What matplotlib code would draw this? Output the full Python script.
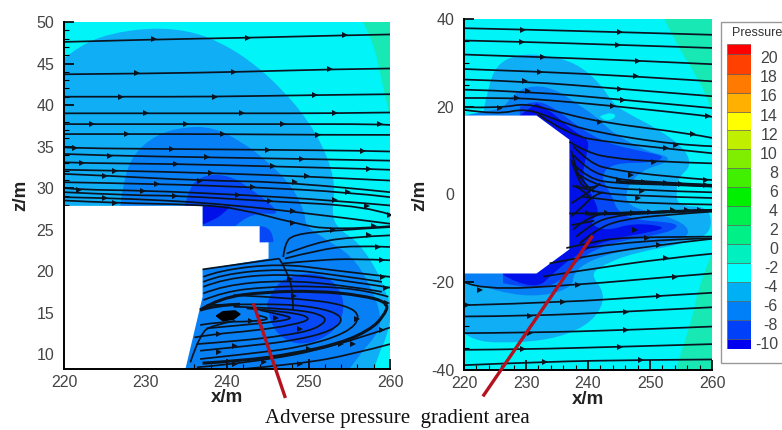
import matplotlib
matplotlib.use("Agg")
import matplotlib.pyplot as plt
from matplotlib.path import Path
from matplotlib.patches import PathPatch, Rectangle
from matplotlib.ticker import MultipleLocator

W, H = 782, 430

# colour bar
cb_edges = [-10.6, -9.6, -7.6, -5.6, -3.6, -1.6, 0.4, 2.4, 4.4, 6.4, 8.4, 10.4, 12.4, 14.3, 16.3, 18.2, 20.3, 21.4]
cb_colors = ["#0000f0", "#0040f8", "#0080f8", "#00b0f5", "#00ffff", "#00f0c0", "#00f088", "#00f050",
             "#00f000", "#40f000", "#80ee00", "#c0f000", "#ffff00", "#ffb000", "#ff7a00", "#ff4000", "#ff0000"]
cb_ticks = [-10, -8, -6, -4, -2, 0, 2, 4, 6, 8, 10, 12, 14, 16, 18, 20]
level_color = {"bg": "#00f4f8", "0": "#18e8b4", "-4": "#10aef5", "-6": "#0880f5", "-8": "#0648f5", "-10": "#0010e8"}

# left panel: side view
left_body = [(220, 27.85), (237, 27.85), (237, 25.4), (244, 25.4), (244, 23.45), (245.1, 23.45), (245.1, 21.5),
             (237, 20.2), (237, 16.9), (234.85, 8.0), (220, 8.0)]
left_regions = [
    ("0", [(256.7, 50), (258, 47.4), (258.8, 43.8), (260, 38.5)], [(260, 50)]),
    ("-4", [(220, 45.6), (222, 47.2), (225.6, 48.6), (230.6, 49.3), (235, 49), (238.7, 47.8), (242.8, 45.4),
            (246.9, 41.8), (250.2, 37.8), (252.4, 33.7), (253.3, 30.1), (252.8, 26.5), (254, 24.8), (256, 23.6),
            (258.5, 20), (259.6, 17), (260.3, 15.5), (259.6, 12), (258.5, 9.8), (258, 8)], [(220, 8)]),
    ("-6", [(226.9, 27.8), (227.3, 30.9), (228.5, 34.1), (231.4, 36.5), (235, 37.4), (238.3, 37.3), (241.6, 35.7),
            (244.9, 33.3), (248.1, 30.1), (249.6, 26.9), (249.6, 25.5), (251.8, 24), (255.4, 21.8), (257.5, 18.4),
            (258.8, 15.2), (258.8, 12.8), (256.3, 10), (254.9, 8)], [(234, 8), (234, 27.8)]),
    ("-8", [(234.8, 27.8), (235.3, 29.7), (236.3, 31.1), (238.3, 31.7), (240.8, 31.3), (243.2, 29.7), (245.7, 27.8),
            (246.3, 26.8), (244, 27), (242, 26.3), (241, 25.4)], [(237, 25.4), (237, 27.8)]),
    ("-8", [(244, 25.4), (245.6, 25.4), (245.7, 23.5)], [(244, 23.4)]),
    ("-8", [(244.9, 16), (245.6, 18), (247.7, 19.4), (250.5, 19.8), (253, 19), (254.5, 16.4), (253.9, 13.6),
            (251.8, 11.8), (249, 11.1), (246.9, 11.8), (245.3, 13.6), (244.9, 16)], []),
    ("-10", [(240.4, 27.8), (239.5, 26.8), (238, 26), (237, 25.6)], [(237, 27.8)]),
]
left_lines = [
    [(220, 47.6), (231, 47.9), (242.6, 48.1), (254.5, 48.4), (260, 48.5)],
    [(220, 43.7), (231, 43.8), (242, 44), (252.6, 44.3), (260, 44.4)],
    [(220, 41), (227, 41), (238.5, 41), (250.8, 41.2), (260, 41.3)],
    [(220, 39), (230, 39), (241.8, 39), (253.3, 39), (260, 39.1)],
    [(220, 37.7), (223.4, 37.7), (235, 37.7), (246.9, 37.7), (258.8, 37.7), (260, 37.6)],
    [(220, 36.5), (227.7, 36.5), (239.5, 36.5), (251.2, 36.4), (260, 36.4)],
    [(220, 34.9), (221.3, 34.8), (233.2, 34.7), (245, 34.6), (256.7, 34.5), (260, 34.4)],
    [(220, 34.1), (225.6, 33.9), (237.5, 33.7), (249.2, 33.5), (260, 33.3)],
    [(220, 33.1), (222.2, 33), (233.8, 32.9), (245.7, 32.6), (257.4, 32.3), (260, 32.2)],
    [(220, 32.2), (226.3, 32.1), (238, 31.8), (249.8, 31.4), (260, 30.9)],
    [(220, 31.7), (225, 31.5), (236.7, 30.9), (248.3, 30.7), (260, 29.5)],
    [(220, 30.7), (231.4, 30.5), (243.2, 30.1), (254.9, 29.5), (260, 28.9)],
    [(220, 30), (221.8, 29.8), (229.7, 29.7), (241.4, 29.2), (253.2, 28.5), (260, 27.9)],
    [(220, 29.5), (228.5, 29.1), (233.6, 29.1), (245.3, 28.4), (257.2, 27.8), (260, 26.8)],
    [(220, 28.9), (225, 28.8), (232.6, 28.5), (238.7, 28.1), (248.1, 27.2), (260, 25.7)],
    [(220, 28.5), (226, 28.2), (236.7, 28), (241.6, 27.5), (248.1, 25.8), (253, 24.9), (260, 25.4)],
    [(260, 25.3), (253, 24.9), (248.1, 24.4), (247.1, 23.3), (246.9, 21.7)],
    [(247.3, 22.1), (251, 23.5), (255.5, 24.1), (260, 24.3)],
    [(247.1, 21.5), (251, 22.5), (255.5, 23.1), (260, 22.9)],
    [(246.7, 20.9), (251, 21.3), (255.5, 21.5), (260, 21.3)],
    [(237, 20.2), (246.4, 21.5)],
    [(237.1, 19.3), (239.1, 20.1), (246.5, 20.9), (253, 20.1), (260, 19.3)],
    [(237.1, 18.7), (239.3, 19.6), (246.7, 20.3), (253.6, 19.5), (259, 18.7)],
    [(237.1, 18.1), (239.6, 19.1), (246.9, 19.7), (254.3, 18.9), (260, 18)],
    [(237.1, 17.3), (239.6, 18.3), (246.9, 18.9), (254.3, 18.3), (259, 17.5)],
    [(237.1, 16.5), (239.6, 17.5), (244.9, 18.1), (251, 18.2), (257.1, 17.7), (259.8, 16.9)],
    [(246.4, 21.5), (247.3, 20.1), (248.1, 17.7), (248.1, 15.3)],
    [(240.8, 17.1), (249, 16.7), (254.7, 15.9), (256.5, 14.5), (254.7, 12.5), (249, 10.8), (242.4, 10), (236.7, 9.4)],
    [(237.5, 15.9), (244.9, 16.1), (251, 15.7), (254.5, 14.5), (253, 12.8), (248.1, 11.6), (242.8, 11), (236.7, 10.4)],
    [(240.8, 15.7), (248.1, 15.5), (252.6, 14.5), (251, 13), (246.9, 12.2), (241.6, 11.6), (236.3, 11.2)],
    [(242.4, 15.5), (247.7, 15.1), (250.6, 14.3), (248.1, 13.5), (243.2, 12.8), (238.3, 12.4), (236, 12)],
    [(244, 15.3), (246.9, 14.7), (248.1, 14.3), (246.1, 13.9), (242, 13.5), (237.5, 13.1)],
    [(243.6, 14.7), (245.7, 14.3), (243.2, 13.9), (239.1, 13.9), (236.7, 13.5)],
    [(235.5, 9), (236.7, 12.5), (238.3, 13.5), (241, 14)],
    [(236.3, 8.4), (243.2, 9), (253, 10.8), (260, 13.2)],
    [(240.8, 8.1), (249, 8.8), (255.5, 10), (260, 11.2)],
]
left_thick = [
    [(236.7, 15.3), (239.1, 16.8), (244.9, 17.5), (251, 17.6), (256.4, 17.1), (259.9, 16.2), (259.2, 14.5),
     (257.5, 12.9), (253.9, 11.3), (248, 10), (242, 9.2), (237, 8.9)],
    [(236.7, 15.3), (238.7, 15.9), (241.6, 16)],
]
left_blob = [(238.7, 14.6), (239.5, 15.1), (241, 15.2), (241.6, 14.8), (240.8, 14.2), (239.5, 14)]
left_arrows = [(231, 47.9), (242.6, 48.1), (254.5, 48.4), (229, 43.8), (240.8, 44), (252.6, 44.3), (227, 41),
               (238.5, 41), (250.8, 41.2), (230, 39), (241.8, 39), (253.3, 39), (223.4, 37.7), (235, 37.7),
               (246.9, 37.7), (258.8, 37.7), (227.7, 36.5), (239.5, 36.5), (251.2, 36.4), (221.3, 34.8),
               (233.2, 34.7), (245, 34.6), (256.7, 34.5), (225.6, 33.9), (237.5, 33.7), (249.2, 33.5),
               (222.2, 33), (233.8, 32.9), (245.7, 32.6), (257.4, 32.3), (226.3, 32.1), (238, 31.8), (249.8, 31.4),
               (225, 31.5), (236.7, 30.9), (248.3, 30.7), (231.4, 30.5), (243.2, 30.1), (254.9, 29.5),
               (221.8, 29.8), (229.7, 29.7), (241.4, 29.2), (253.2, 28.5), (233.6, 29.1), (245.3, 28.4),
               (257.2, 27.8), (225, 28.8), (248.1, 27.2), (226.3, 28.2), (248.1, 25.8), (253, 24.9), (260, 26.8),
               (258, 25.4), (257.4, 24.3), (258.5, 22.9), (259, 21.3), (259.2, 19.3), (259.5, 18), (259.6, 16.2),
               (247.7, 19), (248.2, 17), (254, 11.2), (256, 14.2), (249, 13), (246, 14.3), (243, 14), (239, 12.4),
               (241, 11), (239, 10.2), (250, 10.6), (255.5, 11.2), (259, 12.9), (241, 8.8), (244.5, 9), (249, 8.8)]

# right panel: top view
right_body = [(220, 18), (231.7, 18), (237, 12.5), (237, -12.5), (231.7, -18), (220, -18)]
right_regions = [
    ("0", [(252.3, 40), (254.2, 34.5), (256.9, 28.4), (259.3, 22.3), (260, 18.6)], [(260, 40)]),
    ("0", [(260, -13.4), (258, -20.2), (256.9, -27.8), (255.3, -34.7), (254.2, -40)], [(260, -40)]),
    ("-4", [(223.1, 18.6), (223.9, 24.6), (225.3, 29.6), (228.5, 31.9), (232.8, 31.9), (238.1, 30), (241.9, 25.4),
            (244, 20.8), (246.2, 18.6), (251.5, 14.8), (255.8, 10.2), (256.6, 6.4), (254.7, 4.1), (254.2, 1.1),
            (254.5, -2.7), (259.6, -2.7), (260, -8.8), (255.8, -11.1), (247.2, -13.4), (243, -15.7), (240.3, -18),
            (242.4, -21.7), (242.4, -25.5), (239.7, -30.1), (233.8, -33.2), (225.8, -33.9), (221.5, -33.2),
            (220, -31.6)], [(220, 18)]),
    ("bg", [(241.9, 17.8), (243.2, 18.7), (244.6, 18.2), (244, 17), (242.4, 16.9), (241.9, 17.8)], []),
    ("-6", [(226.3, 19.7), (227.9, 23.1), (231.2, 25), (234.9, 23.9), (238.1, 20.8), (241.3, 17.8), (244, 14),
            (249.4, 9.8), (253.1, 8.7), (252.6, 7.2), (248.8, 5.6), (246.2, 1.8), (246.2, -2.7), (252, -4.5),
            (256.4, -7.3), (255.8, -10.3), (247.2, -12.2), (240.3, -14.9), (237.6, -18), (237.6, -21), (232.8, -23.3),
            (225.8, -22.5), (220, -19.5)], [(220, 18)]),
    ("-8", [(229, 20), (231.2, 21.6), (234.4, 20), (238.7, 15.1), (243, 11.7), (248.8, 9.8), (252.6, 8.7),
            (250.5, 7.2), (244, 7.2), (241.9, 4.1), (244, -0.5), (244.6, -3.5), (247.2, -5.8), (255.1, -6.5),
            (253.1, -8.8), (242.9, -11.1), (237.6, -15.7), (235.4, -20.2), (231.2, -21.7), (226.3, -20.2)],
     [(226, 18), (229, 18)]),
    ("-10", [(231.7, 20.8), (233.8, 19.3), (237.6, 14.4), (240.3, 12.5), (239.7, 8.7), (239, 4), (240.8, -0.5),
             (241.9, -4.3), (240, -6.5), (243, -8.4), (247.2, -6.5), (252.6, -7.3), (250.9, -8.4), (243, -10.3),
             (237.6, -14.1), (233.8, -18.7), (232.2, -21), (228.5, -20.2), (226.3, -18.3)], [(229, 18)]),
]
right_lines = [
    [(220, 37.9), (229.5, 37.6), (245.1, 37), (260, 36.4)],
    [(220, 35.1), (229.4, 34.8), (244.9, 34.1), (260, 33.4)],
    [(220, 31.9), (232.8, 31.3), (248, 30.5), (260, 29.7)],
    [(220, 28.6), (232.2, 28), (247.8, 26.9), (260, 25.8)],
    [(220, 26.2), (229.8, 25.8), (245.1, 24.1), (260, 22.4)],
    [(220, 23.9), (230.3, 23.5), (245.6, 21.6), (260, 19.7)],
    [(220, 22), (228.5, 22), (232.8, 21.6), (244, 20.2), (259.3, 17.9), (260, 17.7)],
    [(220, 19.9), (225.8, 19.7), (230, 20.8), (234.9, 18.9), (241.9, 16.5), (256.9, 13.8), (260, 12.9)],
    [(220, 19.3), (225.3, 18.2), (230, 19.7), (234.9, 17), (240.3, 14.4), (254.2, 11.3), (260, 11)],
    [(232, 18.2), (237, 13.5), (243, 12), (252.5, 10.5), (260, 9.4)],
    [(237, 12), (240, 9.5), (244, 8.3), (250.7, 7.5), (260, 7.1)],
    [(237.6, 11), (240.3, 7.1), (244, 5.6), (252.6, 4.1), (260, 3.3)],
    [(237.6, 9), (240, 5.5), (244, 3.7), (248, 3), (260, 2.2)],
    [(237.6, 7), (240, 3.5), (245, 2.5), (252, 2.3), (260, 1.8)],
    [(238, 5), (241, 2), (247, 1), (260, 0.5)],
    [(238, 2), (241, 0.5), (247, -0.3), (260, -0.8)],
    [(239, -0.5), (242, -1), (248, -2), (260, -2.3)],
    [(237, -4.3), (240.8, -4.3), (247.2, -4.3), (253.7, -3.6), (260, -3.5)],
    [(237.6, -8), (240, -5), (244.5, -3.9), (260, -3.8)],
    [(238.1, -9.6), (240.8, -6.5), (244, -5), (248.3, -4.3), (260, -3.5)],
    [(238.7, -11.1), (241.3, -8), (245.1, -5.8), (252.6, -4.6), (260, -3.9)],
    [(236.5, -12.2), (240.3, -11), (244, -10), (249.9, -9.7), (260, -9.6)],
    [(239.7, -12.2), (248.3, -10.3), (260, -10)],
    [(233.8, -15.7), (238.1, -14.5), (249.9, -11.7), (260, -10.1)],
    [(232.8, -18.7), (237.6, -17.6), (252.6, -14.5), (260, -13.5)],
    [(220, -19.9), (222.6, -21.8), (238.4, -20.6), (253.7, -18.7), (260, -18)],
    [(220.7, -25.2), (236, -24.6), (251.5, -23.1), (260, -22.4)],
    [(220, -27.8), (230.6, -27.7), (246.2, -26.7), (260, -25.7)],
    [(220, -31.6), (230.6, -31.5), (246.2, -30.9), (260, -30.1)],
    [(220, -35.4), (229.5, -35.3), (245.1, -34.7), (260, -34.1)],
    [(220, -38.9), (233, -38.1), (248.6, -37.7), (260, -37.6)],
    [(237.3, 10), (238, 6), (239, 3), (241, 0.5)],
    [(237.3, 8), (238.2, 4), (239.5, 1), (241.5, 2)],
    [(237.3, -2), (238.5, -1), (240.5, 1), (242, 2.5)],
    [(237.3, -5), (239, -3), (241, 0), (242.5, 0.5)],
    [(237.3, -7), (239, -6.5), (241, -6)],
    [(237.5, 2), (239, 1.5), (240.5, -1)],
]
right_thick = [
    [(245, 2.9), (252, 2.5), (260, 2)],
    [(240, -4.5), (250, -4.2), (260, -3.6)],
]
right_arrows = [(229.5, 37.6), (245.1, 37), (229.4, 34.8), (244.9, 34.1), (232.8, 31.3), (248, 30.5), (232.2, 28),
                (247.8, 26.9), (229.8, 25.8), (245.1, 24.1), (230.3, 23.5), (245.6, 21.6), (228.5, 22), (244, 20.2),
                (259.3, 17.9), (225.8, 19.7), (241.9, 16.5), (256.9, 13.8), (254.2, 11.3), (252.5, 10.5), (250.7, 7.5),
                (247, 4.5), (249, 2.8), (259, 3.3), (259, 2.2), (248.7, 0.9), (248, -0.8), (247.2, -4.3), (253.7, -3.6),
                (258, -3.5), (247.5, -8), (249.5, -10), (251.5, -11.5), (252.6, -14.5), (254, -18.7), (222.6, -21.8),
                (238.4, -20.6), (236, -24.6), (251.5, -23.1), (220.5, -25.2), (230.6, -27.7), (246.2, -26.7),
                (230.6, -31.5), (246.2, -30.9), (229.5, -35.3), (245.1, -34.7), (233, -38.1), (248.6, -37.7),
                (245, 3.3), (252.5, 2.6), (255, 2.3), (240, -4.3), (243, -4.2), (250, -4), (256, -3.5)]

# red leader lines, in each panel's x/z
left_leader = ([243.3, 247.1], [15.9, 4.9])
right_leader = ([240.6, 223.2], [-9.7, -45.7])


def fpx(x, y):
    return x / W, 1 - y / H


def axes_px(x0, x1, y0, y1):
    return plt.gcf().add_axes([x0 / W, 1 - y1 / H, (x1 - x0) / W, (y1 - y0) / H])


def curve_path(pts, tail=(), closed=False):
    # quadratic curve through the midpoints of the read points
    verts = [pts[0]]
    codes = [Path.MOVETO]
    for i in range(1, len(pts) - 1):
        mid = ((pts[i][0] + pts[i + 1][0]) / 2, (pts[i][1] + pts[i + 1][1]) / 2)
        if i == len(pts) - 2:
            mid = pts[i + 1]
        verts += [pts[i], mid]
        codes += [Path.CURVE3, Path.CURVE3]
    if len(pts) == 2:
        verts.append(pts[1])
        codes.append(Path.LINETO)
    for p in tail:
        verts.append(p)
        codes.append(Path.LINETO)
    if closed:
        verts.append(pts[0])
        codes.append(Path.CLOSEPOLY)
    return Path(verts, codes)


def draw_panel(ax, regions, body, lines, arrows, xlim, ylim, ymajor, yminor):
    ax.set_xlim(*xlim)
    ax.set_ylim(*ylim)
    ax.set_facecolor(level_color["bg"])
    for level, pts, tail in regions:
        ax.add_patch(PathPatch(curve_path(pts, tail, True), fc=level_color[level], ec="none", zorder=1))
    ax.fill([p[0] for p in body], [p[1] for p in body], color="white", lw=0, zorder=2)
    for pts in lines:
        ax.add_patch(PathPatch(curve_path(pts), fc="none", ec="#0a1420", lw=1.25, zorder=3))
    ax.plot([p[0] for p in arrows], [p[1] for p in arrows], ">", color="#0a1420", ms=4.4, mew=0, zorder=4)
    for s in ["top", "right"]:
        ax.spines[s].set_visible(False)
    for s in ["left", "bottom"]:
        ax.spines[s].set_linewidth(1.4)
        ax.spines[s].set_zorder(6)
    ax.xaxis.set_major_locator(MultipleLocator(10))
    ax.xaxis.set_minor_locator(MultipleLocator(2))
    ax.yaxis.set_major_locator(MultipleLocator(ymajor))
    ax.yaxis.set_minor_locator(MultipleLocator(yminor))
    ax.tick_params(which="major", direction="in", length=7, width=1.2, labelsize=11.5, labelcolor="#444444",
                   zorder=6)
    ax.tick_params(which="minor", direction="in", length=3.5, width=0.8)
    ax.tick_params(axis="x", which="major", pad=4)
    ax.tick_params(axis="y", which="major", pad=7)


plt.rcParams["font.family"] = ["Liberation Sans", "DejaVu Sans"]
plt.rcParams["axes.unicode_minus"] = False
fig = plt.figure(figsize=(W / 100, H / 100), dpi=100)

ax1 = axes_px(64, 390, 22, 369)
draw_panel(ax1, left_regions, left_body, left_lines, left_arrows, (220, 260), (8.2, 50), 5, 1)
for pts in left_thick:
    ax1.add_patch(PathPatch(curve_path(pts), fc="none", ec="#0a1420", lw=2.2, zorder=3))
ax1.fill([p[0] for p in left_blob], [p[1] for p in left_blob], color="black", zorder=4)
ax1.plot(*left_leader, color="#b5121f", lw=2.4, clip_on=False, zorder=7)

ax2 = axes_px(464, 712, 19, 370)
draw_panel(ax2, right_regions, right_body, right_lines, right_arrows, (220, 260), (-40, 40), 20, 5)
for pts in right_thick:
    ax2.add_patch(PathPatch(curve_path(pts), fc="none", ec="#0a1420", lw=2.0, zorder=3))
ax2.plot(*right_leader, color="#b5121f", lw=2.4, clip_on=False, zorder=7)

# labels
for (x, y) in [(227, 398), (588, 399)]:
    fig.text(*fpx(x, y), "x/m", fontsize=13.5, fontweight="bold", color="#222222", ha="center", va="center")
for (x, y) in [(21, 195), (420, 195)]:
    fig.text(*fpx(x, y), "z/m", fontsize=13.5, fontweight="bold", color="#222222", ha="center", va="center",
             rotation=90)
fig.text(*fpx(397, 418), "Adverse pressure  gradient area", fontsize=15, family="Liberation Serif", color="#111111",
         ha="center", va="center")

# legend box and colour bar
fig.add_artist(Rectangle(fpx(721, 363), 70 / W, 341 / H, transform=fig.transFigure, fc="white", ec="#999999", lw=1,
                         zorder=-1))
fig.text(*fpx(732, 33), "Pressure", fontsize=9, color="#333333", ha="left", va="center")
cax = axes_px(727, 751, 44, 349)
for i in range(len(cb_colors)):
    cax.barh(cb_edges[i], 1, height=cb_edges[i + 1] - cb_edges[i], align="edge", color=cb_colors[i],
             edgecolor="#555555", linewidth=0.4)
cax.set_xlim(0, 1)
cax.set_ylim(cb_edges[0], cb_edges[-1])
cax.set_xticks([])
cax.set_yticks(cb_ticks)
cax.yaxis.tick_right()
cax.tick_params(axis="y", length=0, pad=19.4, labelsize=11.5, labelcolor="#444444")
for lab in cax.get_yticklabels():
    lab.set_ha("right")
for s in cax.spines.values():
    s.set_visible(False)

fig.savefig("out.png", dpi=100)
